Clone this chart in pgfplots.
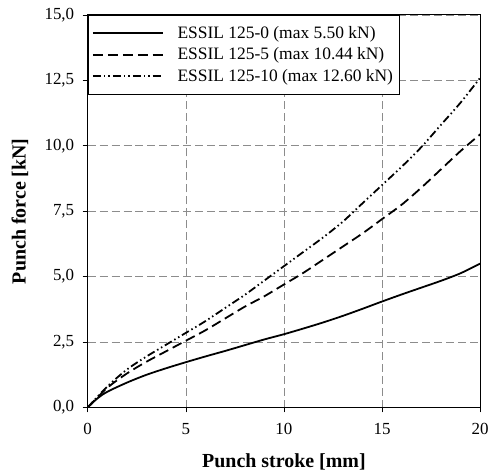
\documentclass[border=0pt]{standalone}
\usepackage{pgfplots}
\pgfplotsset{compat=1.18}
\usepackage{fontspec}
\setmainfont{Liberation Serif}
\begin{document}
\begin{tikzpicture}
\begin{axis}[
  scale only axis,
  width=394pt, height=394pt,
  xmin=0, xmax=20, ymin=0, ymax=15,
  xtick={0,5,10,15,20},
  ytick={0,2.5,5,7.5,10,12.5,15},
  tick align=outside,
  major tick length=5pt,
  xtick pos=left, ytick pos=left,
  tick style={black, line width=0.6pt},
  axis line style={line width=0.9pt},
  /pgf/number format/assume math mode=true,
  tick label style={font=\fontsize{17}{20}\selectfont},
  yticklabel style={xshift=-5pt, /pgf/number format/.cd, fixed, fixed zerofill, precision=1, use comma},
  xticklabel style={yshift=-7pt, /pgf/number format/.cd, fixed, precision=0},
  xlabel={\textbf{Punch stroke [mm]}},
  ylabel={\textbf{Punch force [kN]}},
  label style={font=\fontsize{20}{23}\selectfont},
  xlabel style={at={([yshift=-55pt]axis description cs:0.5,0)}, anchor=center},
  ylabel style={at={([xshift=-68pt]axis description cs:0,0.5)}, anchor=center},
  grid=major,
  major grid style={gray!90, dash pattern=on 8pt off 4pt, line width=0.6pt},
  legend style={at={(0,1)}, anchor=north west, draw=black, line width=0.8pt,
    font=\fontsize{17.5}{20}\selectfont, row sep=4pt, column sep=12pt,
    inner xsep=4pt, inner ysep=9pt, cells={anchor=west}},
  legend image code/.code={\draw[#1] (0pt,0pt) -- (70pt,0pt);},
]
\addplot[black, line width=1.8pt, smooth] coordinates {
(0,0) (0.5,0.35) (1,0.6) (2,0.95) (3,1.25) (4,1.5) (5,1.73) (6,1.95) (7,2.16) (8,2.38) (9,2.6) (10,2.8) (11,3.02) (12,3.25) (13,3.5) (14,3.77) (15,4.05) (16,4.32) (17,4.58) (18,4.84) (19,5.13) (20,5.5)};
\addlegendentry{ESSIL 125-0 (max 5.50 kN)}
\addplot[black, line width=1.8pt, smooth, dash pattern=on 10pt off 5pt] coordinates {
(0,0) (1,0.75) (2,1.3) (3,1.75) (4,2.15) (5,2.55) (6,2.95) (7,3.4) (8,3.85) (9,4.25) (10,4.7) (11,5.15) (12,5.65) (13,6.15) (14,6.65) (15,7.2) (16,7.75) (17,8.4) (18,9.1) (19,9.8) (20,10.44)};
\addlegendentry{ESSIL 125-5 (max 10.44 kN)}
\addplot[black, line width=1.8pt, smooth, dash pattern=on 8pt off 3pt on 1.5pt off 3pt on 1.5pt off 3pt] coordinates {
(0,0) (1,0.8) (2,1.45) (3,1.95) (4,2.4) (5,2.85) (6,3.3) (7,3.8) (8,4.3) (9,4.85) (10,5.4) (11,5.95) (12,6.5) (13,7.1) (14,7.8) (15,8.5) (16,9.2) (17,9.95) (18,10.8) (19,11.65) (20,12.6)};
\addlegendentry{ESSIL 125-10 (max 12.60 kN)}
\end{axis}
\path ([xshift=-88pt]current axis.west) ([xshift=10pt]current axis.east)
      ([yshift=15pt]current axis.north) ([yshift=-68pt]current axis.south);
\end{tikzpicture}
\end{document}
